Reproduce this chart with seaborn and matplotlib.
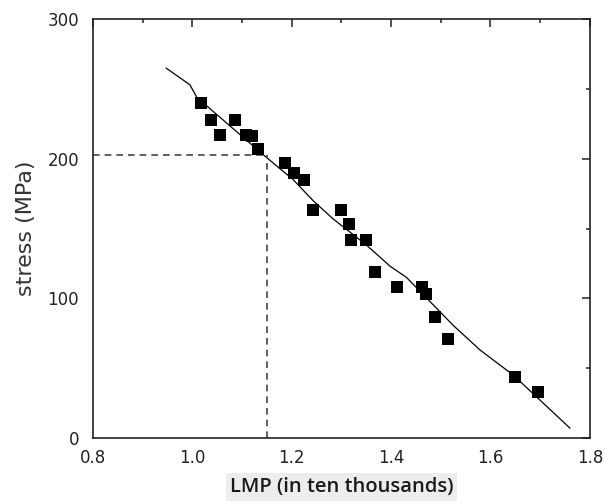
import matplotlib
matplotlib.use("Agg")
import matplotlib.pyplot as plt
from matplotlib.ticker import MultipleLocator, FormatStrFormatter
import pandas as pd
import seaborn as sns

# measured points (LMP in ten thousands, stress in MPa)
lmp = [1.017, 1.038, 1.055, 1.086, 1.108, 1.120, 1.133, 1.187, 1.204, 1.224,
       1.243, 1.299, 1.315, 1.319, 1.350, 1.367, 1.411, 1.463, 1.470, 1.489,
       1.514, 1.649, 1.696]
stress = [240, 228, 217, 228, 217, 216, 207, 197, 190, 185,
          163, 163, 153, 142, 142, 119, 108, 108, 103, 87,
          71, 44, 33]

# fitted master curve
fit_lmp = [0.947, 0.995, 1.009, 1.149, 1.203, 1.243, 1.283, 1.351, 1.398,
           1.431, 1.524, 1.579, 1.646, 1.760]
fit_stress = [265, 253, 244, 201, 185, 170, 157, 138, 123,
              115, 81, 63, 45, 7]

# reading of the design point
read_lmp = 1.15
read_stress = 203

pts = pd.DataFrame({"lmp": lmp, "stress": stress})
fit = pd.DataFrame({"lmp": fit_lmp, "stress": fit_stress})

sns.set_style("white")
plt.rcParams["font.family"] = ["DejaVu Sans"]

fig = plt.figure(figsize=(6.05, 5.04), dpi=100)
ax = fig.add_axes([0.1537, 0.131, 0.8213, 0.831])

sns.lineplot(data=fit, x="lmp", y="stress", color="black", lw=0.9,
             sort=False, ax=ax)
sns.scatterplot(data=pts, x="lmp", y="stress", marker="s", s=80,
                color="black", linewidth=0, ax=ax, zorder=3)

ax.plot([0.8, read_lmp], [read_stress, read_stress], ls=(0, (4, 3)),
        color="#444444", lw=1.2)
ax.plot([read_lmp, read_lmp], [0, read_stress], ls=(0, (4, 3)),
        color="#444444", lw=1.2)

ax.set_xlim(0.8, 1.8)
ax.set_ylim(0, 300)
ax.xaxis.set_major_locator(MultipleLocator(0.2))
ax.xaxis.set_minor_locator(MultipleLocator(0.1))
ax.yaxis.set_major_locator(MultipleLocator(100))
ax.yaxis.set_minor_locator(MultipleLocator(50))
ax.xaxis.set_major_formatter(FormatStrFormatter("%.1f"))

ax.tick_params(which="both", direction="in", top=True, right=True,
               color="#222222", labelsize=12, labelcolor="#222222")
ax.tick_params(which="major", length=6, width=1.1)
ax.tick_params(which="minor", length=2.8, width=1.1)
ax.tick_params(axis="x", which="major", pad=8)
ax.tick_params(axis="y", which="major", pad=10)
for sp in ax.spines.values():
    sp.set_color("#222222")
    sp.set_linewidth(1.2)

ax.set_ylabel("stress (MPa)", fontsize=16, color="#333333", labelpad=8)
ax.set_xlabel("LMP (in ten thousands)", fontsize=14.5, color="#1a1a1a",
              family=["Open Sans", "DejaVu Sans"], fontweight="semibold",
              labelpad=7,
              bbox=dict(boxstyle="square,pad=0.2", facecolor="#ededed",
                        edgecolor="none"))

fig.savefig("out.png", dpi=100)
